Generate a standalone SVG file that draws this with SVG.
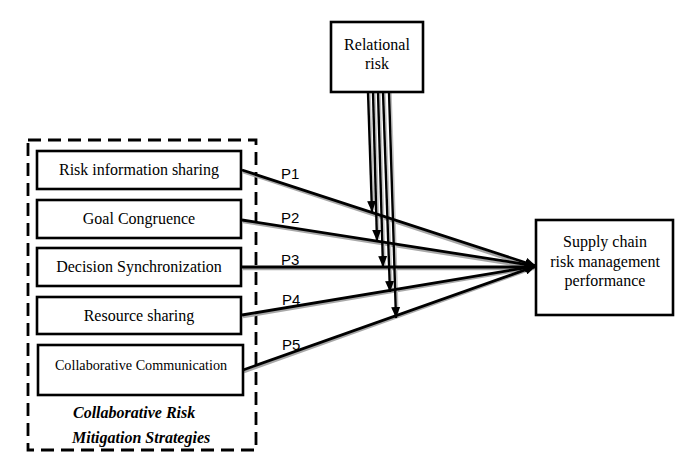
<svg xmlns="http://www.w3.org/2000/svg" width="680" height="456" viewBox="0 0 680 456">
<style>
.box{fill:#fff;stroke:#000;stroke-width:2.6}
.t{font-family:"Liberation Serif","Times New Roman",serif;font-size:16px;fill:#000;text-anchor:middle}
.ti{font-family:"Liberation Serif","Times New Roman",serif;font-size:16px;font-weight:bold;font-style:italic;fill:#000}
.p{font-family:"Liberation Sans",Arial,sans-serif;font-size:15px;fill:#000}
.ln{stroke:#000;stroke-width:2.8;fill:none}
.lns{stroke:#a8a8a8;stroke-width:2.6;fill:none}
.vs{stroke:#c0c0c0;stroke-width:1.5;fill:none}
.v{stroke:#000;stroke-width:2.4;fill:none}
</style>
<defs>
<marker id="ah" markerUnits="userSpaceOnUse" markerWidth="12" markerHeight="10" refX="11" refY="5" orient="auto">
<path d="M0,0 L11,5 L0,10 Z" fill="#000"/>
</marker>
<marker id="av" markerUnits="userSpaceOnUse" markerWidth="12" markerHeight="10" refX="11" refY="5" orient="auto">
<path d="M0,0.5 L11,5 L0,9.5 Z" fill="#000"/>
</marker>
</defs>
<rect width="680" height="456" fill="#fff"/>

<g id="group-strategies">
<rect x="28" y="140" width="228" height="310" fill="none" stroke="#000" stroke-width="2.8" stroke-dasharray="13,7"/>
<text class="ti" x="73" y="418">Collaborative Risk</text>
<text class="ti" x="72" y="443">Mitigation Strategies</text>
</g>

<g id="connectors">
<g class="shadows">
<path class="lns" d="M243,172 L534,268"/>
<path class="lns" d="M243,222 L534,268"/>
<path class="lns" d="M243,269 L534,269"/>
<path class="lns" d="M243,317 L534,268"/>
<path class="lns" d="M244,372 L534,268"/>
<path class="vs" d="M370,93 L374,210"/>
<path class="vs" d="M375,93 L379,239"/>
<path class="vs" d="M380,93 L385,265"/>
<path class="vs" d="M385,93 L392,290"/>
<path class="vs" d="M391,93 L398,316"/>
</g>
<path class="ln" d="M242,170 L536,266" marker-end="url(#ah)"/>
<path class="ln" d="M242,220 L536,266" marker-end="url(#ah)"/>
<path class="ln" d="M242,267 L536,267" marker-end="url(#ah)"/>
<path class="ln" d="M242,315 L536,266" marker-end="url(#ah)"/>
<path class="ln" d="M243,370 L536,266" marker-end="url(#ah)"/>
<path class="v" d="M368,92 L372,212" marker-end="url(#av)"/>
<path class="v" d="M373,92 L377,241" marker-end="url(#av)"/>
<path class="v" d="M378,92 L383,267" marker-end="url(#av)"/>
<path class="v" d="M383,92 L390,292" marker-end="url(#av)"/>
<path class="v" d="M389,92 L396,318" marker-end="url(#av)"/>
<text class="p" x="281" y="179">P1</text>
<text class="p" x="281" y="223">P2</text>
<text class="p" x="281" y="265">P3</text>
<text class="p" x="282" y="305">P4</text>
<text class="p" x="282" y="350">P5</text>
</g>

<g id="node-relational">
<rect x="331" y="22" width="92" height="70" class="box" stroke-width="3"/>
<text class="t" x="377" y="50">Relational</text>
<text class="t" x="377" y="69">risk</text>
</g>

<g id="node-risk-info">
<rect x="37" y="151" width="204" height="38" class="box"/>
<text class="t" x="139" y="175">Risk information sharing</text>
</g>
<g id="node-goal">
<rect x="37" y="200" width="204" height="38" class="box"/>
<text class="t" x="139" y="224">Goal Congruence</text>
</g>
<g id="node-decision">
<rect x="37" y="248" width="204" height="38" class="box"/>
<text class="t" x="139" y="272">Decision Synchronization</text>
</g>
<g id="node-resource">
<rect x="37" y="297" width="204" height="37" class="box"/>
<text class="t" x="139" y="321">Resource sharing</text>
</g>
<g id="node-communication">
<rect x="38" y="345" width="205" height="50" class="box"/>
<text class="t" x="141" y="370" style="font-size:14.2px">Collaborative Communication</text>
</g>

<g id="node-performance">
<rect x="536" y="220" width="137" height="95" class="box"/>
<text class="t" x="605" y="247">Supply chain</text>
<text class="t" x="605" y="267">risk management</text>
<text class="t" x="605" y="286">performance</text>
</g>
</svg>
